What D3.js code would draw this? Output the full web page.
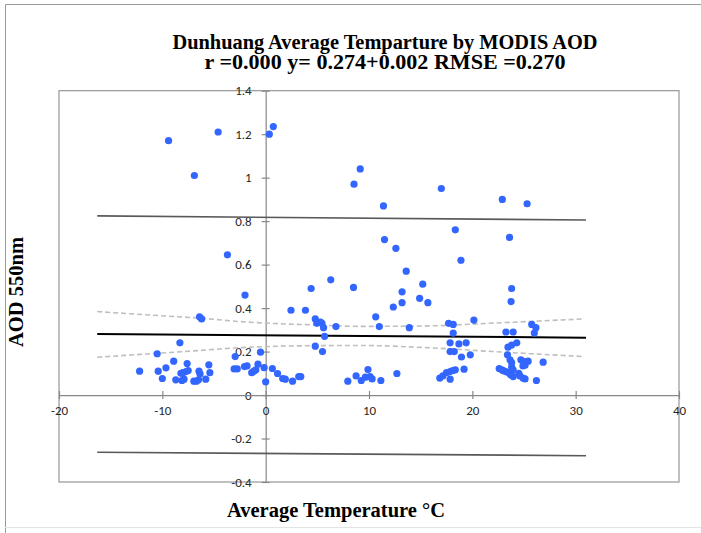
<!DOCTYPE html>
<html>
<head>
	<title>Dunhuang AOD</title>
	<script src="https://d3js.org/d3.v7.min.js"></script>
	<style>
	  body { margin: 0; background: #fff; }
	  svg { display: block; }
	</style>
</head>
<body>
  <svg width="701" height="533"></svg>
	<script>
  // point data: temperature (°C) and AOD at 550nm
  var tempValues = [
    -9.4, -4.6, -6.9, 0.35, 0.74, 8.55, 9.15, 11.4, 17.0, 22.9, 25.3, 18.35, 23.6, 11.5, 12.6, 18.9,
    -3.7, 13.6, 6.3, 4.4, 8.5, 15.2, 23.8, 13.2, -2.0, 14.9, 15.7, 13.2, 23.75, 12.35, 2.45, 3.85,
    10.65, -6.4, -6.2, 4.8, 4.95, 5.3, 5.45, 5.6, 6.8, 11.0, 13.9, 17.7, 18.15, 20.15, 25.75, 26.15,
    26.0, 23.25, 23.95, 18.15, 5.7, -8.3, 4.8, 5.5, 17.85, 18.7, 19.4, 17.85, 18.25, 18.95, 19.8,
    -10.5, -0.5, -2.95, 23.45, 23.8, 24.3, 23.4,
    -12.2, -10.4, -9.65, -10.0, -8.9, -7.6, -8.7, -8.2, -8.0, -7.7, -7.5, -8.1, -7.9, -6.95, -6.7,
    -6.5, -6.45, -6.35, -5.8, -5.5, -5.4, -3.05, -2.75, -2.05, -1.8, -1.35, -1.15, -0.95, -0.75,
    -0.15, 0.0, 0.65, 1.15, 1.65, 1.9, 2.6, 3.2, 3.4,
    7.95, 8.75, 9.25, 9.65, 9.9, 10.1, 10.3, 11.15, 12.7,
    16.85, 17.15, 17.5, 17.85, 18.1, 18.35, 17.85, 19.2,
    23.65, 23.8, 24.7, 25.0, 25.4, 24.9, 25.1, 26.85, 22.6, 22.85, 23.05, 23.3, 23.55, 23.8, 23.95,
    23.7, 23.95, 24.5, 24.6, 24.9, 25.1, 26.2
  ];
  var aodValues = [
    1.17, 1.21, 1.01, 1.20, 1.235, 0.97, 1.04, 0.87, 0.95, 0.90, 0.88, 0.76, 0.725, 0.715, 0.675, 0.62,
    0.645, 0.57, 0.53, 0.49, 0.495, 0.51, 0.49, 0.475, 0.46, 0.445, 0.425, 0.425, 0.43, 0.405, 0.39, 0.39,
    0.36, 0.36, 0.35, 0.35, 0.33, 0.335, 0.33, 0.31, 0.315, 0.315, 0.31, 0.33, 0.325, 0.345, 0.325, 0.31,
    0.285, 0.29, 0.29, 0.285, 0.27, 0.24, 0.225, 0.2, 0.24, 0.235, 0.24, 0.2, 0.2, 0.175, 0.185,
    0.19, 0.197, 0.177, 0.22, 0.23, 0.24, 0.185,
    0.11, 0.11, 0.125, 0.076, 0.156, 0.145, 0.07, 0.10, 0.103, 0.108, 0.113, 0.067, 0.073, 0.064, 0.064,
    0.07, 0.11, 0.097, 0.073, 0.139, 0.103, 0.12, 0.12, 0.131, 0.134, 0.103, 0.11, 0.116, 0.142,
    0.126, 0.061, 0.122, 0.099, 0.076, 0.073, 0.064, 0.085, 0.085,
    0.064, 0.088, 0.067, 0.082, 0.117, 0.085, 0.074, 0.067, 0.099,
    0.078, 0.088, 0.103, 0.108, 0.113, 0.116, 0.073, 0.119,
    0.162, 0.149, 0.162, 0.154, 0.156, 0.134, 0.137, 0.151, 0.122, 0.116, 0.111, 0.107, 0.103, 0.128, 0.116,
    0.093, 0.085, 0.10, 0.088, 0.078, 0.074, 0.067
  ];

  var fitT = [-16.3, 31];
  var fitAOD = [0.281, 0.264];
  var predUpper = [0.824, 0.805];
  var predLower = [-0.263, -0.279];
  var bandT = [-16.3, -10.2, -6.4, -2.5, 0, 5, 9.1, 15.6, 22, 30.8];
  var bandUpper = [0.384, 0.365, 0.354, 0.338, 0.331, 0.322, 0.316, 0.318, 0.331, 0.350];
  var bandLower = [0.174, 0.193, 0.205, 0.218, 0.223, 0.227, 0.228, 0.218, 0.200, 0.177];

  // tick labels
  var xTicks = [-20, -10, 0, 10, 20, 30, 40];
  var xTickLabels = ["-20", "-10", "0", "10", "20", "30", "40"];
  var yTicks = [1.4, 1.2, 1, 0.8, 0.6, 0.4, 0.2, 0, -0.2, -0.4];
  var yTickLabels = ["1.4", "1.2", "1", "0.8", "0.6", "0.4", "0.2", "0", "-0.2", "-0.4"];

  var svg = d3.select("svg");
  var plotLeft = 59, plotRight = 679, plotTop = 90.7, plotBottom = 482;

  var x = d3.scaleLinear().domain([-20, 40]).range([plotLeft, plotRight]);
  var y = d3.scaleLinear().domain([-0.4, 1.4]).range([plotBottom, plotTop]);

  // outer chart frame
  svg.append("path")
    .attr("d", "M5.5,533 V4.5 H701")
    .attr("fill", "none").attr("stroke", "#9a9a9a").attr("stroke-width", 1);
  svg.append("line")
    .attr("x1", 5).attr("x2", 701).attr("y1", 527.5).attr("y2", 527.5)
    .attr("stroke", "#e4e4e4");

  // plot area border
  svg.append("rect")
    .attr("x", plotLeft).attr("y", plotTop)
    .attr("width", plotRight - plotLeft).attr("height", plotBottom - plotTop)
    .attr("fill", "none").attr("stroke", "#969696").attr("stroke-width", 1.2);

  // axes crossing at zero
  var tickFont = "Calibri, Carlito, Lato, sans-serif";
  var yAxis = svg.append("g")
    .attr("transform", "translate(" + x(0) + ",0)")
    .call(d3.axisLeft(y).tickValues(yTicks).tickSizeInner(4).tickSizeOuter(0).tickPadding(10)
      .tickFormat(function(d, i){ return yTickLabels[i]; }));
  yAxis.selectAll(".tick line").attr("x1", -4).attr("x2", 4);

  var xAxis = svg.append("g")
    .attr("transform", "translate(0," + y(0) + ")")
    .call(d3.axisBottom(x).tickValues(xTicks).tickSizeInner(4).tickSizeOuter(0).tickPadding(7)
      .tickFormat(function(d, i){ return xTickLabels[i]; }));
  xAxis.selectAll(".tick line").attr("y1", -4).attr("y2", 4);

  svg.selectAll(".domain, .tick line").attr("stroke", "#888").attr("stroke-width", 1.2);
  svg.selectAll(".tick text")
    .attr("fill", "#262626").style("font-family", tickFont).style("font-size", "13px");

  // prediction lines
  var line = d3.line().x(function(d){ return x(d[0]); }).y(function(d){ return y(d[1]); });
  [predUpper, predLower].forEach(function(p){
    svg.append("path")
      .attr("d", line(fitT.map(function(t, i){ return [t, p[i]]; })))
      .attr("fill", "none").attr("stroke", "#595959").attr("stroke-width", 1.6);
  });

  // confidence bands
  var curve = d3.line().curve(d3.curveMonotoneX)
    .x(function(d){ return x(d[0]); }).y(function(d){ return y(d[1]); });
  [bandUpper, bandLower].forEach(function(b){
    svg.append("path")
      .attr("d", curve(bandT.map(function(t, i){ return [t, b[i]]; })))
      .attr("fill", "none").attr("stroke", "#bfbfbf").attr("stroke-width", 1.6)
      .attr("stroke-dasharray", "5,3");
  });

  // regression line
  svg.append("path")
    .attr("d", line(fitT.map(function(t, i){ return [t, fitAOD[i]]; })))
    .attr("fill", "none").attr("stroke", "#000").attr("stroke-width", 2);

  // scatter points
  svg.append("g").selectAll("circle")
    .data(tempValues.map(function(t, i){ return [t, aodValues[i]]; }))
    .enter()
    .append("circle")
    .attr("cx", function(d){ return x(d[0]); })
    .attr("cy", function(d){ return y(d[1]); })
    .attr("r", 3.6)
    .style("fill", "#3366ff");

  // titles
  var serif = "'Times New Roman', 'Liberation Serif', serif";
  svg.append("text")
    .attr("x", 385).attr("y", 49)
    .attr("text-anchor", "middle")
    .attr("textLength", 425).attr("lengthAdjust", "spacingAndGlyphs")
    .style("font-family", serif).style("font-weight", "bold").style("font-size", "20.5px")
    .text("Dunhuang Average Temparture by MODIS AOD");
  svg.append("text")
    .attr("x", 385).attr("y", 69)
    .attr("text-anchor", "middle")
    .attr("textLength", 361).attr("lengthAdjust", "spacingAndGlyphs")
    .style("font-family", serif).style("font-weight", "bold").style("font-size", "20.5px")
    .text("r =0.000 y= 0.274+0.002 RMSE =0.270");

  svg.append("text")
    .attr("x", 336).attr("y", 517)
    .attr("text-anchor", "middle")
    .style("font-family", serif).style("font-weight", "bold").style("font-size", "20.5px")
    .text("Average Temperature °C");

  svg.append("text")
    .attr("transform", "translate(23,292) rotate(-90)")
    .attr("text-anchor", "middle")
    .style("font-family", serif).style("font-weight", "bold").style("font-size", "20.5px")
    .text("AOD 550nm");
	</script>
</body>
</html>
